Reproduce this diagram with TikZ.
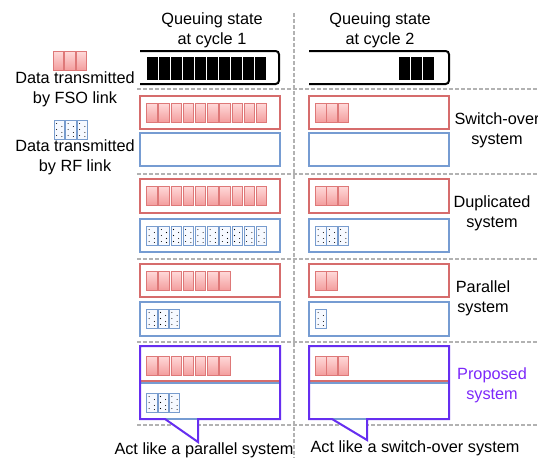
\documentclass[tikz,border=0pt]{standalone}
\usepackage{fontspec}
\setmainfont{Liberation Sans}
\definecolor{sepgray}{RGB}{178,178,178}
\definecolor{fsoline}{RGB}{214,108,108}
\definecolor{rfline}{RGB}{118,156,210}
\definecolor{fsoedge}{RGB}{222,120,120}
\definecolor{fsotop}{RGB}{255,218,218}
\definecolor{fsobot}{RGB}{243,158,158}
\definecolor{rfedge}{RGB}{120,156,206}
\definecolor{rffill}{RGB}{246,249,255}
\definecolor{propcol}{RGB}{102,46,240}
\definecolor{proptext}{RGB}{124,40,250}

% a row of data blocks: x, y, count, pitch
\newcommand{\fsorow}[4]{%
  \foreach \i in {1,...,#3}
    \draw[fsoblk] ({#1+#4*(\i-1)},#2) rectangle ++(10.5,19);}
\newcommand{\rfrow}[4]{%
  \foreach \i in {1,...,#3}{
    \draw[rfblk] ({#1+#4*(\i-1)},#2) rectangle ++(10.5,19);
    \foreach \dx/\dy in {2.6/3.5,2.6/9.5,2.6/15.5,7.8/6.5,7.8/12.5,7.8/16.5}
      \fill ({#1+#4*(\i-1)+\dx},{#2+\dy}) circle (0.4pt);}}

\begin{document}
\begin{tikzpicture}[
  x=0.75pt,
  y=-0.75pt,
  lbl/.style={font=\fontsize{12.2}{15}\selectfont, align=center, inner sep=0pt},
  sep/.style={draw=sepgray, line width=1.5pt, dash pattern=on 3pt off 1.5pt},
  queue/.style={draw=black, line width=1.5pt, rounded corners=2.5pt},
  fsobox/.style={draw=fsoline, line width=0.8pt},
  rfbox/.style={draw=rfline, line width=0.8pt},
  fsoblk/.style={draw=fsoedge, line width=0.6pt, top color=fsotop, bottom color=fsobot},
  rfblk/.style={draw=rfedge, line width=0.6pt, fill=rffill},
  callout/.style={draw=propcol, line width=1.5pt, line join=miter}
]
\useasboundingbox (0,0) rectangle (538,458);

% separators
\draw[sep] (294,13) -- (294,458);
\foreach \y in {89,174,259,342,425}
  \draw[sep] (137,\y) -- (538,\y);

% headers and legend
\node[lbl] (head1) at (212,30) {Queuing state\\at cycle 1};
\node[lbl] (head2) at (380,30) {Queuing state\\at cycle 2};
\fsorow{53}{51}{3}{11.5}
\node[lbl] (fsotxt) at (75,89) {Data transmitted\\by FSO link};
\rfrow{54}{120}{3}{11.5}
\node[lbl] (rftxt) at (75,157) {Data transmitted\\by RF link};

% queues
\draw[queue] (140,51) -| (279,84) -- (140,84);
\draw[queue] (309,51) -| (449,84) -- (309,84);
\foreach \i in {0,...,9}
  \fill ({146.5+12*\i},57) rectangle ++(11,23);
\foreach \i in {0,...,2}
  \fill ({399+12*\i},57) rectangle ++(11,23);

% switch-over system
\draw[fsobox] (140,96) rectangle (280,129);
\draw[rfbox] (140,133) rectangle (280,166);
\draw[fsobox] (309,96) rectangle (449,129);
\draw[rfbox] (309,133) rectangle (449,166);
\fsorow{146.5}{103}{10}{12.2}
\fsorow{315.5}{103}{3}{11.3}
\node[lbl] (swlbl) at (497,130) {Switch-over\\system};

% duplicated system
\draw[fsobox] (140,179) rectangle (280,213);
\draw[rfbox] (140,219) rectangle (280,252);
\draw[fsobox] (309,179) rectangle (449,213);
\draw[rfbox] (309,219) rectangle (449,252);
\fsorow{146.5}{186}{10}{12.2}
\rfrow{146.5}{226}{10}{12.2}
\fsorow{315.5}{186}{3}{11.3}
\rfrow{315.5}{226}{3}{11.3}
\node[lbl] (duplbl) at (492,213) {Duplicated\\system};

% parallel system
\draw[fsobox] (140,264) rectangle (280,297);
\draw[rfbox] (140,302) rectangle (280,336);
\draw[fsobox] (309,264) rectangle (449,297);
\draw[rfbox] (309,302) rectangle (449,336);
\fsorow{146.5}{271}{7}{12.2}
\rfrow{146.5}{309}{3}{11.4}
\fsorow{315.5}{271}{2}{11.3}
\rfrow{315.5}{309}{1}{11.3}
\node[lbl] (parlbl) at (483,298) {Parallel\\system};

% proposed system
\fill[white] (165,419) -- (198,442) -- (198,419) -- cycle;
\fill[white] (332,419) -- (367,440) -- (367,419) -- cycle;
\draw[fsobox] (140,346) rectangle (280,381);
\draw[rfbox] (140,383) rectangle (280,419);
\draw[fsobox] (309,346) rectangle (449,381);
\draw[rfbox] (309,383) rectangle (449,419);
\fsorow{146.5}{356}{7}{12.2}
\rfrow{146.5}{393}{3}{11.4}
\fsorow{315.5}{356}{3}{11.3}
\draw[callout] (140,346) -- (280,346) -- (280,419) -- (198,419) -- (198,442)
  -- (165,419) -- (140,419) -- cycle;
\draw[callout] (309,346) -- (449,346) -- (449,419) -- (367,419) -- (367,440)
  -- (332,419) -- (309,419) -- cycle;
\node[lbl, text=proptext] (proplbl) at (492,385) {Proposed\\system};
\node[lbl] (act1) at (204,450) {Act like a parallel system};
\node[lbl] (act2) at (415,448) {Act like a switch-over system};
\end{tikzpicture}
\end{document}
